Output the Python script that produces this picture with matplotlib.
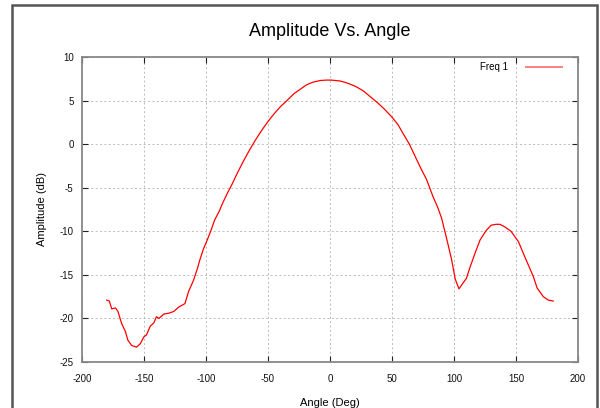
import matplotlib
matplotlib.use("Agg")
import matplotlib.pyplot as plt
from matplotlib.patches import Rectangle

# Angle (deg) and amplitude (dB)
angle = [-180, -178, -176, -173, -171, -168, -165, -163, -160, -156, -153,
         -150, -148, -145, -142, -140, -138, -134, -130, -126, -122, -117,
         -114, -110, -107, -105, -102, -99, -96, -93, -89, -87, -83, -79,
         -75, -70, -65, -60, -55, -50, -45, -40, -34, -29, -24, -19, -14,
         -8, -3, 1, 8, 12, 16, 21, 27, 32, 38, 44, 50, 55, 59, 64, 68, 73,
         78, 83, 87, 90, 94, 98, 101, 104, 106, 110, 113, 117, 121, 126,
         130, 134, 137, 141, 146, 152, 157, 164, 167, 172, 176, 180]
amp = [-17.9, -18.0, -18.9, -18.8, -19.2, -20.6, -21.5, -22.5, -23.1, -23.3,
       -22.9, -22.1, -21.9, -20.9, -20.5, -19.8, -20.0, -19.5, -19.4, -19.2,
       -18.7, -18.3, -16.9, -15.6, -14.3, -13.3, -12.0, -11.0, -9.9, -8.7,
       -7.6, -6.9, -5.7, -4.6, -3.4, -2.0, -0.7, 0.5, 1.6, 2.6, 3.5, 4.3,
       5.1, 5.8, 6.3, 6.8, 7.1, 7.3, 7.35, 7.35, 7.25, 7.1, 6.9, 6.6, 6.1,
       5.5, 4.8, 4.0, 3.1, 2.2, 1.2, 0.0, -1.2, -2.7, -4.1, -6.0, -7.3,
       -8.5, -10.8, -13.2, -15.5, -16.6, -16.2, -15.4, -14.1, -12.5, -11.0,
       -9.9, -9.3, -9.2, -9.2, -9.5, -10.0, -11.2, -12.9, -15.2, -16.5,
       -17.5, -17.9, -18.0]

xticks = [-200, -150, -100, -50, 0, 50, 100, 150, 200]
yticks = [-25, -20, -15, -10, -5, 0, 5, 10]

plt.rcParams["font.family"] = ["Liberation Sans", "DejaVu Sans"]
plt.rcParams["axes.unicode_minus"] = False

fig = plt.figure(figsize=(6.0, 4.08), dpi=100)

# window frame around the chart
fig.patches.append(Rectangle((12 / 600, -0.1), 585 / 600, 1.1 - 5 / 408,
                             transform=fig.transFigure, fill=False,
                             edgecolor="#555555", lw=1.8))

ax = fig.add_axes([82 / 600, 1 - 362 / 408, 496 / 600, 305 / 408])
ax.plot(angle, amp, color="#ff0000", lw=0.9, label="Freq 1")

ax.set_xlim(-200, 200)
ax.set_ylim(-25, 10)
ax.set_xticks(xticks)
ax.set_yticks(yticks)
ax.tick_params(direction="in", length=4, width=0.8, labelsize=7,
               top=True, right=True, color="#222222", labelcolor="#111111")
ax.tick_params(axis="x", pad=9)
ax.tick_params(axis="y", pad=6)
ax.grid(True, color="#bbbbbb", ls=(0, (2, 2.5)), lw=0.7)
for s in ax.spines.values():
    s.set_color("#888888")
    s.set_linewidth(1.3)

ax.set_xlabel("Angle (Deg)", fontsize=8, labelpad=10)
ax.set_ylabel("Amplitude (dB)", fontsize=8, labelpad=9)
fig.text(0.55, 1 - 32 / 408, "Amplitude Vs. Angle", fontsize=13,
         ha="center", va="center")

leg = ax.legend(loc="upper right", bbox_to_anchor=(1.0, 1.033),
                frameon=False, fontsize=7, markerfirst=False,
                handlelength=3.8, handletextpad=1.8, borderaxespad=1.2)
for h in leg.get_lines():
    h.set_color("#ff8080")
    h.set_linewidth(1.4)

fig.savefig("out.png", dpi=100)
